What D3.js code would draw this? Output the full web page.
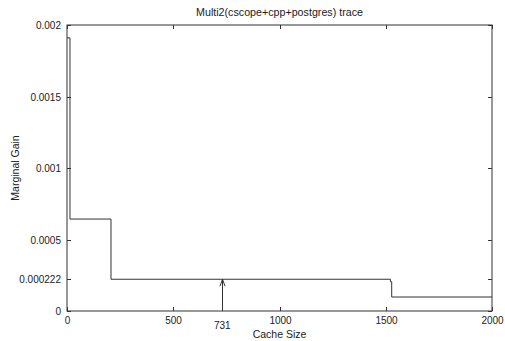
<!DOCTYPE html>
<html><head><meta charset="utf-8">
<script src="https://cdn.jsdelivr.net/npm/d3@7"></script>
<style>body{margin:0;background:#fff}svg{display:block}text{font-family:"Liberation Sans",Arial,sans-serif;fill:#222}</style>
</head><body><svg id="c" width="505" height="341"></svg>
<script>
const title = "Multi2(cscope+cpp+postgres) trace";
const xLabel = "Cache Size";
const yLabel = "Marginal Gain";
const xTicks = [0, 500, 1000, 1500, 2000];
const yTicks = [0, 0.0005, 0.001, 0.0015, 0.002];
const yTickLabels = ["0", "0.0005", "0.001", "0.0015", "0.002"];
const extraYTick = 0.000222;
const extraYTickLabel = "0.000222";
const markX = 731;
const markLabel = "731";
const stepX = [0, 14, 207, 1522, 1528, 2000];
const stepY = [0.00191, 0.000643, 0.000222, 0.000205, 0.0000979, 0.0000979];

const svg = d3.select("#c");
const m = {l: 67, r: 13, t: 25, b: 30};
const W = 505, H = 341;
const x = d3.scaleLinear().domain([0, 2000]).range([m.l, W - m.r]);
const y = d3.scaleLinear().domain([0, 0.002]).range([H - m.b, m.t]);
const col = "#333";

// frame
svg.append("rect").attr("x", x(0)).attr("y", y(0.002)).attr("width", x(2000) - x(0)).attr("height", y(0) - y(0.002))
  .attr("fill", "none").attr("stroke", col).attr("stroke-width", 1);

const allY = yTicks.concat([extraYTick]);
const allYL = yTickLabels.concat([extraYTickLabel]);
const tl = 4;
// y ticks
allY.forEach((v, i) => {
  const py = Math.round(y(v)) + 0.5;
  svg.append("line").attr("x1", x(0)).attr("x2", x(0) + tl).attr("y1", py).attr("y2", py).attr("stroke", col);
  svg.append("line").attr("x1", x(2000)).attr("x2", x(2000) - tl).attr("y1", py).attr("y2", py).attr("stroke", col);
  svg.append("text").attr("x", x(0) - 6).attr("y", py + 3.5).attr("text-anchor", "end").attr("font-size", 10).text(allYL[i]);
});
// x ticks
xTicks.forEach(v => {
  const px = Math.round(x(v)) + 0.5;
  svg.append("line").attr("x1", px).attr("x2", px).attr("y1", y(0)).attr("y2", y(0) - tl).attr("stroke", col);
  svg.append("line").attr("x1", px).attr("x2", px).attr("y1", y(0.002)).attr("y2", y(0.002) + tl).attr("stroke", col);
  svg.append("text").attr("x", px).attr("y", y(0) + 13).attr("text-anchor", "middle").attr("font-size", 10).text(d3.format("d")(v));
});
svg.append("text").attr("x", x(markX)).attr("y", y(0) + 18).attr("text-anchor", "middle").attr("font-size", 10).text(markLabel);

// data step line
const pts = stepX.map((d, i) => [d, stepY[i]]);
svg.append("path").datum(pts)
  .attr("d", d3.line().x(d => x(d[0])).y(d => y(d[1])).curve(d3.curveStepAfter))
  .attr("fill", "none").attr("stroke", col).attr("stroke-width", 1);

// arrow
const ax = Math.round(x(markX)) + 0.5;
svg.append("line").attr("x1", ax).attr("x2", ax).attr("y1", y(0)).attr("y2", y(extraYTick)).attr("stroke", col);
svg.append("path").attr("d", `M${ax - 2.5},${y(extraYTick) + 7}L${ax},${y(extraYTick)}L${ax + 2.5},${y(extraYTick) + 7}`)
  .attr("fill", "none").attr("stroke", col);

// titles
svg.append("text").attr("x", (x(0) + x(2000)) / 2).attr("y", 16).attr("text-anchor", "middle").attr("font-size", 10.7).text(title);
svg.append("text").attr("x", (x(0) + x(2000)) / 2).attr("y", 338).attr("text-anchor", "middle").attr("font-size", 10.5).text(xLabel);
svg.append("text").attr("transform", `translate(19,${(y(0) + y(0.002)) / 2}) rotate(-90)`).attr("text-anchor", "middle").attr("font-size", 10.5).text(yLabel);
</script></body></html>
